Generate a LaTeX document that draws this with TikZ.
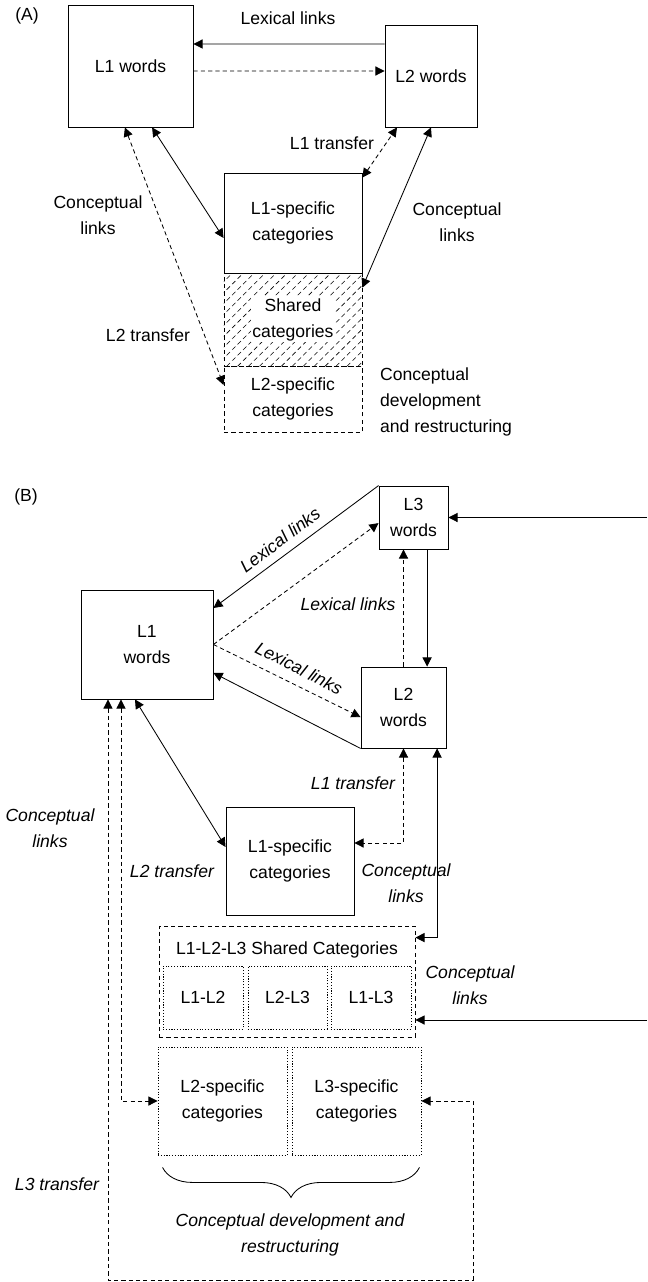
\documentclass[tikz,border=0pt]{standalone}
\usepackage{fontspec}
\setmainfont{Liberation Sans}
\usepackage{tikz}
\usetikzlibrary{arrows.meta,positioning,calc,patterns.meta,decorations.pathreplacing}

\begin{document}
\begin{tikzpicture}[x=0.025cm,y=-0.025cm,line width=0.6pt,
    every node/.style={font=\fontsize{12.5}{18.5}\selectfont},
    box/.style={draw,align=center,inner sep=0pt},
    dsh/.style={dash pattern=on 3pt off 2.2pt},
    dts/.style={dash pattern=on 0.8pt off 1.2pt},
    tip/.style={-{Triangle[length=6.5pt,width=6.5pt]}},
    tips/.style={{Triangle[length=6.5pt,width=6.5pt]}-{Triangle[length=6.5pt,width=6.5pt]}},
    lbl/.style={align=center},
    ilbl/.style={align=center,font=\fontsize{12.5}{18.5}\selectfont\itshape}]
    \useasboundingbox (0,0) rectangle (647,1282);

    % Part (A): boxes
    \node (labA) at (27,16) {(A)};
    \node[box,minimum width=3.125cm,minimum height=3.05cm] (l1wA) at (130.5,66) {L1 words};
    \node[box,minimum width=2.3cm,minimum height=2.55cm] (l2wA) at (431,76) {L2 words};
    \node[box,dsh,pattern={Lines[angle=45,distance=5.5pt,line width=0.4pt]},
          minimum width=3.45cm,minimum height=2.325cm] (shA) at (293,319.5) {};
    \node[fill=white,inner sep=1pt,align=center] (shtA) at (shA) {Shared\\categories};
    \node[box,dsh,minimum width=3.45cm,minimum height=1.65cm] (l2sA) at (293,399) {L2-specific\\categories};
    \node[box,fill=white,minimum width=3.45cm,minimum height=2.5cm] (l1sA) at (293,223) {L1-specific\\categories};

    % Part (A): links
    \draw[tip] ([yshift=0.8cm]l2wA.west) -- ([yshift=0.55cm]l1wA.east);
    \draw[tip,dsh] ([yshift=-0.125cm]l1wA.east) -- ([yshift=0.125cm]l2wA.west);
    \draw[tips,dsh] ([yshift=-0.125cm]l1sA.north east) -- ([xshift=-0.85cm]l2wA.south);
    \draw[tips] (l2wA.south) -- ([yshift=-0.375cm]shA.north east);
    \draw[tips] ([xshift=0.54cm]l1wA.south) -- ([yshift=-0.375cm]l1sA.west);
    \draw[tips,dsh] ([xshift=-0.14cm]l1wA.south) -- ([yshift=0.35cm]l2sA.west);

    % Part (A): labels
    \node (lexA) at (288,18) {Lexical links};
    \node (l1tA) at (332,143) {L1 transfer};
    \node[lbl] (clA1) at (98,215) {Conceptual\\links};
    \node[lbl] (clA2) at (457,222) {Conceptual\\links};
    \node (l2tA) at (148,335) {L2 transfer};
    \node[align=left,anchor=west] (cdA) at (375,402) {Conceptual\\development\\and restructuring};

    % Part (B): boxes
    \node (labB) at (26,497) {(B)};
    \node[box,minimum width=1.725cm,minimum height=1.575cm] (l3wB) at (413.5,517.5) {L3\\words};
    \node[box,minimum width=3.3cm,minimum height=2.725cm] (l1wB) at (147,644.5) {L1\\words};
    \node[box,minimum width=2.125cm,minimum height=2.025cm] (l2wB) at (403.5,707.5) {L2\\words};
    \node[box,minimum width=3.2cm,minimum height=2.7cm] (l1sB) at (290,861) {L1-specific\\categories};
    \node[box,dsh,minimum width=6.4cm,minimum height=2.775cm] (shB) at (287,981.5) {};
    \node (shtB) at (287,950) {L1-L2-L3 Shared Categories};
    \node[box,dts,minimum width=2cm,minimum height=1.575cm] (s12) at (203,997.5) {L1-L2};
    \node[box,dts,minimum width=1.975cm,minimum height=1.575cm] (s23) at (287.5,997.5) {L2-L3};
    \node[box,dts,minimum width=2cm,minimum height=1.575cm] (s13) at (371,997.5) {L1-L3};
    \node[box,dts,minimum width=3.225cm,minimum height=2.7cm] (l2sB) at (222.5,1101) {L2-specific\\categories};
    \node[box,dts,minimum width=3.225cm,minimum height=2.7cm] (l3sB) at (356.5,1101) {L3-specific\\categories};
    \draw[decorate,decoration={brace,mirror,amplitude=0.75cm}]
        ([xshift=0.125cm,yshift=-0.3cm]l2sB.south west) -- ([xshift=-0.05cm,yshift=-0.3cm]l3sB.south east);

    % Part (B): lexical links
    \draw[tip] (l3wB.north west) -- ([yshift=0.9125cm]l1wB.east);
    \draw[tip,dsh] (l1wB.east) -- ([yshift=-0.14cm]l3wB.west);
    \draw[tip,dsh] (l1wB.east) -- ([yshift=-0.24cm]l2wB.west);
    \draw[tip] (l2wB.south west) -- ([yshift=-0.71cm]l1wB.east);
    \coordinate (l3out) at ([xshift=0.34cm]l3wB.south);
    \draw[tip] (l3out) -- (l3out |- l2wB.north);
    \draw[tip,dsh] (l2wB.north) -- (l2wB.north |- l3wB.south);
    \coordinate (inL3) at (647,517.5);
    \draw[tip] (inL3) -- (l3wB.east);

    % Part (B): conceptual links and transfer
    \draw[tips,dsh] (l2wB.south) |- ([yshift=0.45cm]l1sB.east);
    \draw[tips] ([xshift=0.84cm]l2wB.south) |- ([yshift=-0.3cm]shB.north east);
    \draw[tips] ([xshift=-0.3cm]l1wB.south) -- ([yshift=0.35cm]l1sB.west);
    \draw[tips,dsh] ([xshift=-0.65cm]l1wB.south) |- (l2sB.west);
    \coordinate (loopB) at (473,1280);
    \draw[tips,dsh] ([xshift=-0.975cm]l1wB.south) |- (loopB) |- (l3sB.east);
    \coordinate (inSh) at (647,1020);
    \draw[tip] (inSh) -- (inSh -| shB.east);

    % Part (B): labels
    \node[ilbl,rotate=37] (lex1B) at (280,540) {Lexical links};
    \node[ilbl] (lex2B) at (348,604) {Lexical links};
    \node[ilbl,rotate=-27] (lex3B) at (299,668) {Lexical links};
    \node[ilbl] (clB1) at (50,828) {Conceptual\\links};
    \node[ilbl] (l2tB) at (172,871) {L2 transfer};
    \node[ilbl] (l1tB) at (353,783) {L1 transfer};
    \node[ilbl] (clB2) at (406,883) {Conceptual\\links};
    \node[ilbl] (clB3) at (470,985) {Conceptual\\links};
    \node[ilbl] (l3tB) at (57,1184) {L3 transfer};
    \node[ilbl] (cdB) at (290,1234.5) {Conceptual development and\\restructuring};
\end{tikzpicture}
\end{document}
